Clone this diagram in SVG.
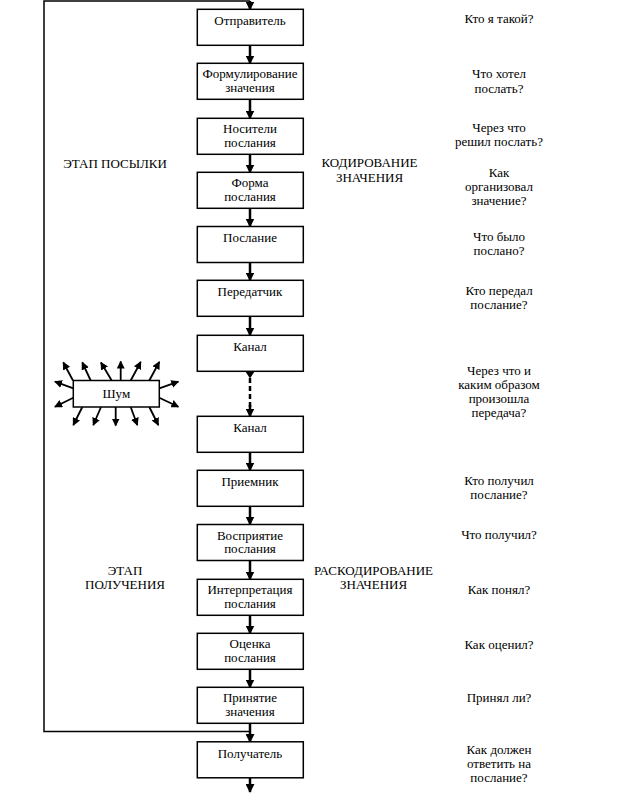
<svg xmlns="http://www.w3.org/2000/svg" width="643" height="793" viewBox="0 0 643 793" font-family="Liberation Serif, Times New Roman, Times, DejaVu Serif, serif">
<style>
  .box { fill: #fff; stroke: #000; stroke-width: 1.5; }
  .t { font-size: 13px; fill: #000; text-anchor: middle; }
  .flow { stroke: #000; stroke-width: 2.5; fill: none; marker-end: url(#ah); }
  .loop { stroke: #000; stroke-width: 1.5; fill: none; }
  .noise { stroke: #000; stroke-width: 1.8; fill: none; marker-end: url(#ahs); }
</style>
<defs>
  <marker id="ah" markerUnits="userSpaceOnUse" markerWidth="9" markerHeight="9" refX="8" refY="4.5" orient="auto">
    <path d="M0,0 L9,4.5 L0,9 z" fill="#000"/>
  </marker>
  <marker id="ahs" markerUnits="userSpaceOnUse" markerWidth="8" markerHeight="8" refX="7" refY="4" orient="auto">
    <path d="M0,0 L8,4 L0,8 z" fill="#000"/>
  </marker>
</defs>

<rect width="643" height="793" fill="#fff"/>

<g id="connectors">
  <path class="loop" d="M250,1 L44,1 L44,731.5 L250,731.5"/>
  <line class="flow" x1="250" y1="1" x2="250" y2="9.5"/>
  <line class="flow" x1="250" y1="45" x2="250" y2="63.5"/>
  <line class="flow" x1="250" y1="99.5" x2="250" y2="118.5"/>
  <line class="flow" x1="250" y1="154.5" x2="250" y2="172.5"/>
  <line class="flow" x1="250" y1="208.5" x2="250" y2="226.5"/>
  <line class="flow" x1="250" y1="262.5" x2="250" y2="280.5"/>
  <line class="flow" x1="250" y1="316.5" x2="250" y2="335.5"/>
  <path d="M245.5,371.5 L254.5,371.5 L250,378.5 z" fill="#000"/>
  <line x1="250" y1="378" x2="250" y2="408" stroke="#000" stroke-width="2.5" stroke-dasharray="5,3"/>
  <line class="flow" x1="250" y1="405" x2="250" y2="416.5"/>
  <line class="flow" x1="250" y1="452.5" x2="250" y2="470.5"/>
  <line class="flow" x1="250" y1="506.5" x2="250" y2="524.5"/>
  <line class="flow" x1="250" y1="560.5" x2="250" y2="579.5"/>
  <line class="flow" x1="250" y1="615.5" x2="250" y2="633.5"/>
  <line class="flow" x1="250" y1="669.5" x2="250" y2="687.5"/>
  <line class="flow" x1="250" y1="723.5" x2="250" y2="742"/>
  <line class="flow" x1="250" y1="778" x2="250" y2="792"/>
  <g id="noise-arrows">
    <line class="noise" x1="73" y1="380.5" x2="63.3" y2="362.5"/>
    <line class="noise" x1="90.7" y1="380.5" x2="82.3" y2="362.5"/>
    <line class="noise" x1="111.7" y1="380.5" x2="101" y2="362.5"/>
    <line class="noise" x1="120.7" y1="380.5" x2="120.7" y2="361.5"/>
    <line class="noise" x1="130.7" y1="380.5" x2="140.7" y2="362"/>
    <line class="noise" x1="149.3" y1="380.5" x2="159.3" y2="362"/>
    <line class="noise" x1="73.3" y1="388.3" x2="55" y2="381.7"/>
    <line class="noise" x1="73.3" y1="397.7" x2="55" y2="406.7"/>
    <line class="noise" x1="159.3" y1="388.3" x2="178.3" y2="381.7"/>
    <line class="noise" x1="159.3" y1="397.7" x2="178.3" y2="406.7"/>
    <line class="noise" x1="82.3" y1="407" x2="73.3" y2="425"/>
    <line class="noise" x1="101" y1="407" x2="93.3" y2="425"/>
    <line class="noise" x1="115.7" y1="407" x2="115.7" y2="425.5"/>
    <line class="noise" x1="130.7" y1="407" x2="137.3" y2="425"/>
    <line class="noise" x1="149.3" y1="407" x2="158.3" y2="425"/>
  </g>
</g>

<g id="n-sender"><rect class="box" x="197.3" y="9.3" width="106" height="36"/><text class="t" x="250" y="25">Отправитель</text></g>
<g id="n-formulation"><rect class="box" x="197.3" y="63.3" width="106" height="36"/><text class="t" x="250" y="78.3">Формулирование</text><text class="t" x="250" y="91.8">значения</text></g>
<g id="n-carriers"><rect class="box" x="197.3" y="118.3" width="106" height="36"/><text class="t" x="250" y="133.3">Носители</text><text class="t" x="250" y="146.8">послания</text></g>
<g id="n-form"><rect class="box" x="197.3" y="172.3" width="106" height="36"/><text class="t" x="250" y="187.3">Форма</text><text class="t" x="250" y="200.8">послания</text></g>
<g id="n-message"><rect class="box" x="197.3" y="226.5" width="106" height="36"/><text class="t" x="250" y="242">Послание</text></g>
<g id="n-transmitter"><rect class="box" x="197.3" y="280.3" width="106" height="36"/><text class="t" x="250" y="296">Передатчик</text></g>
<g id="n-channel1"><rect class="box" x="197.3" y="335.3" width="106" height="36"/><text class="t" x="250" y="351">Канал</text></g>
<g id="n-channel2"><rect class="box" x="197.3" y="416.3" width="106" height="36"/><text class="t" x="250" y="432">Канал</text></g>
<g id="n-receiver"><rect class="box" x="197.3" y="470.3" width="106" height="36"/><text class="t" x="250" y="486">Приемник</text></g>
<g id="n-perception"><rect class="box" x="197.3" y="524.5" width="106" height="36"/><text class="t" x="250" y="539.5">Восприятие</text><text class="t" x="250" y="553">послания</text></g>
<g id="n-interpretation"><rect class="box" x="197.3" y="579.3" width="106" height="36"/><text class="t" x="250" y="594.3">Интерпретация</text><text class="t" x="250" y="607.8">послания</text></g>
<g id="n-evaluation"><rect class="box" x="197.3" y="633.3" width="106" height="36"/><text class="t" x="250" y="648.3">Оценка</text><text class="t" x="250" y="661.8">послания</text></g>
<g id="n-acceptance"><rect class="box" x="197.3" y="687.3" width="106" height="36"/><text class="t" x="250" y="702.3">Принятие</text><text class="t" x="250" y="715.8">значения</text></g>
<g id="n-recipient"><rect class="box" x="197.3" y="741.8" width="106" height="36"/><text class="t" x="250" y="757.5">Получатель</text></g>

<g id="n-noise"><rect class="box" x="73.3" y="380.5" width="86" height="26.5"/><text class="t" x="116.3" y="397.5">Шум</text></g>

<g id="labels">
  <text class="t" x="115" y="168.3">ЭТАП ПОСЫЛКИ</text>
  <text class="t" x="369.5" y="166.7">КОДИРОВАНИЕ</text>
  <text class="t" x="369.5" y="181.7">ЗНАЧЕНИЯ</text>
  <text class="t" x="125" y="575">ЭТАП</text>
  <text class="t" x="125" y="589">ПОЛУЧЕНИЯ</text>
  <text class="t" x="373.5" y="575">РАСКОДИРОВАНИЕ</text>
  <text class="t" x="373.5" y="589">ЗНАЧЕНИЯ</text>
</g>

<g id="questions">
  <text class="t" x="499" y="23">Кто я такой?</text>
  <text class="t" x="499" y="78">Что хотел</text>
  <text class="t" x="499" y="92.5">послать?</text>
  <text class="t" x="499" y="131.5">Через что</text>
  <text class="t" x="499" y="146">решил послать?</text>
  <text class="t" x="499" y="176.5">Как</text>
  <text class="t" x="499" y="190.5">организовал</text>
  <text class="t" x="499" y="204.5">значение?</text>
  <text class="t" x="499" y="240.5">Что было</text>
  <text class="t" x="499" y="255">послано?</text>
  <text class="t" x="499" y="295">Кто передал</text>
  <text class="t" x="499" y="308.5">послание?</text>
  <text class="t" x="499" y="375">Через что и</text>
  <text class="t" x="499" y="389">каким образом</text>
  <text class="t" x="499" y="403">произошла</text>
  <text class="t" x="499" y="417">передача?</text>
  <text class="t" x="499" y="485">Кто получил</text>
  <text class="t" x="499" y="498.5">послание?</text>
  <text class="t" x="499" y="538.5">Что получил?</text>
  <text class="t" x="499" y="594">Как понял?</text>
  <text class="t" x="499" y="648.5">Как оценил?</text>
  <text class="t" x="499" y="702">Принял ли?</text>
  <text class="t" x="499" y="753.5">Как должен</text>
  <text class="t" x="499" y="768">ответить на</text>
  <text class="t" x="499" y="782">послание?</text>
</g>
</svg>
